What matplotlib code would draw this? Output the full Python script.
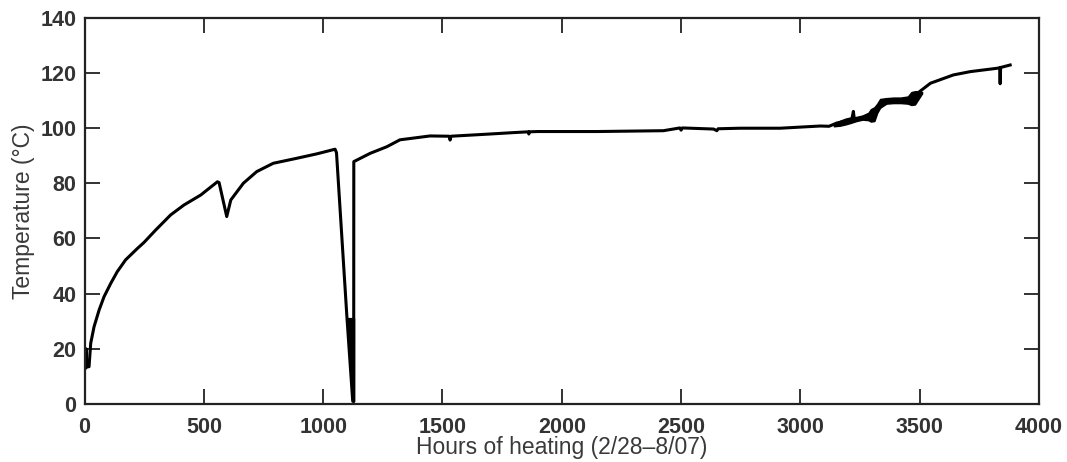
import matplotlib
matplotlib.use("Agg")
import matplotlib.pyplot as plt

# main temperature trace (hours, degC)
hours = [0, 6, 7, 9, 19, 26, 40, 61, 82, 110, 137, 172, 221, 249, 298, 361, 417,
         487, 557, 564, 596, 613, 666, 722, 791, 889, 973, 1050, 1056, 1100, 1124,
         1128, 1128.5, 1197, 1267, 1322, 1448, 1528, 1532, 1536, 1699, 1796, 1860,
         1862, 1864, 1900, 2147, 2426, 2495, 2500, 2505, 2636, 2650, 2655, 2747,
         2915, 3083, 3120, 3153, 3190, 3215, 3222, 3226, 3260, 3305, 3334, 3404,
         3459, 3500, 3545, 3641, 3712, 3823, 3835, 3837, 3839, 3879]
temps = [13, 13, 20, 13.5, 13.5, 22, 28, 34, 38.9, 43.7, 47.9, 52.2, 56.3, 58.5,
         63, 68.5, 72.1, 75.7, 80.5, 80.2, 67.9, 73.9, 80, 84.2, 87.2, 89, 90.6,
         92.3, 91, 31, 1, 1, 87.8, 90.8, 93.2, 95.7, 97.1, 97.0, 95.6, 97.0, 97.8,
         98.3, 98.6, 97.8, 98.6, 98.7, 98.7, 99.0, 100.0, 99.2, 100.0, 99.6, 99.0,
         99.7, 99.9, 99.9, 100.7, 100.6, 101.8, 102.4, 103.0, 106.0, 103.0, 103.8,
         104.7, 109.0, 110.0, 110.4, 113.2, 116.2, 119.2, 120.4, 121.6, 121.8, 116.0,
         121.9, 122.8]

# envelope of the rapid oscillation during the shutdown (hours, degC)
osc_hours = [1100, 1124, 1128]
osc_low = [31, 1, 1]
osc_high = [31, 31, 31]

# envelope of the noisy readings after 3100 h (hours, degC)
band_hours = [3140, 3165, 3190, 3210, 3235, 3260, 3285, 3295, 3310, 3322, 3334,
              3360, 3390, 3420, 3450, 3465, 3480, 3495, 3510]
band_low = [100.6, 100.8, 101.3, 101.8, 102.5, 103.0, 102.8, 102.3, 102.5, 105.5,
            107.3, 108.8, 109.0, 109.0, 108.8, 108.3, 108.5, 110.5, 112.5]
band_high = [101.4, 102.6, 103.4, 103.8, 104.0, 104.5, 105.5, 106.8, 107.5, 108.8,
             110.5, 110.8, 111.0, 111.0, 111.4, 113.0, 113.3, 113.3, 113.0]

xticks = [0, 500, 1000, 1500, 2000, 2500, 3000, 3500, 4000]
yticks = [0, 20, 40, 60, 80, 100, 120, 140]

plt.rcParams['font.family'] = ['Liberation Sans', 'DejaVu Sans']

fig = plt.figure(figsize=(10.67, 4.62), dpi=100)
ax = fig.add_axes([0.0792, 0.1255, 0.8946, 0.8366])
ax.plot(hours, temps, color='black', lw=2.2, solid_joinstyle='round')
ax.fill_between(osc_hours, osc_low, osc_high, color='black', lw=1.5, edgecolor='black')
ax.fill_between(band_hours, band_low, band_high, color='black', lw=1.0, edgecolor='black')
ax.set_xlim(0, 4000)
ax.set_ylim(0, 140)
ax.set_xticks(xticks)
ax.set_yticks(yticks)
ax.tick_params(direction='in', length=11, width=1.3, top=True, right=True,
               labelsize=15.5, labelcolor='#333333', color='#222222')
ax.tick_params(axis='x', pad=9)
ax.tick_params(axis='y', pad=6)
for lab in ax.get_xticklabels() + ax.get_yticklabels():
    lab.set_fontweight('bold')
for s in ax.spines.values():
    s.set_linewidth(1.6)
    s.set_color('#222222')
ax.set_xlabel('Hours of heating (2/28\u20138/07)', fontsize=16.5, color='#3a3a3a', labelpad=-1)
ax.set_ylabel('Temperature (\u00b0C)', fontsize=16.5, color='#3a3a3a', labelpad=4)
fig.savefig('out.png', dpi=100)
